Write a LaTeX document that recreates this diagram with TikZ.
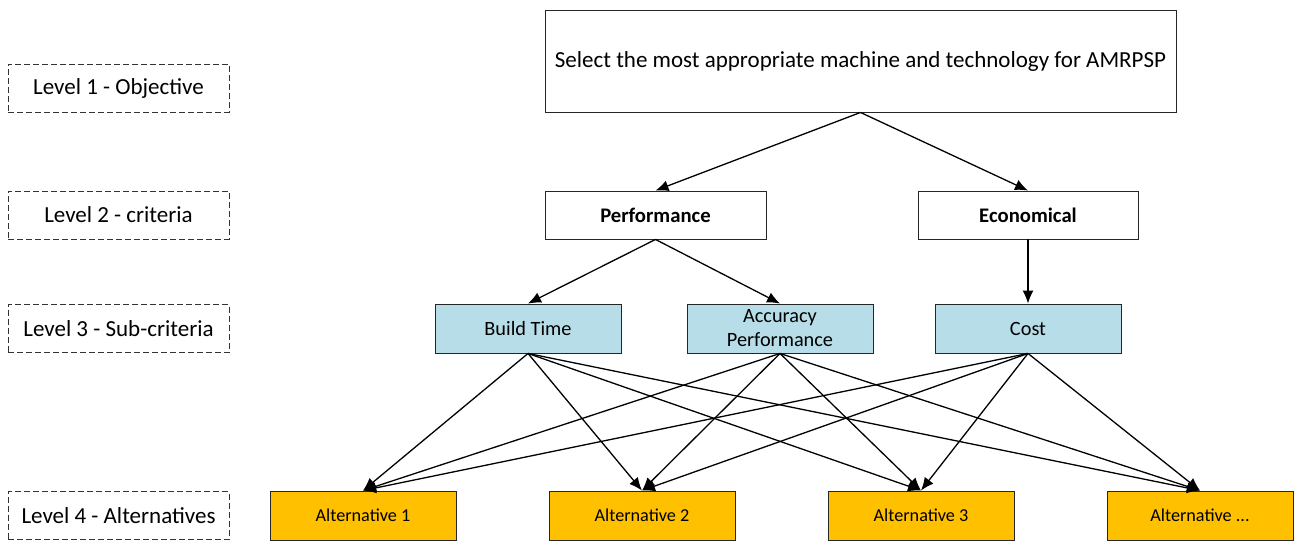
\documentclass[tikz,border=0pt]{standalone}
\usepackage{fontspec}
\setmainfont{Carlito}
\usetikzlibrary{arrows.meta}
\definecolor{subblue}{RGB}{183,221,232}
\definecolor{altgold}{RGB}{255,192,0}
\tikzset{
  levelbox/.style={draw=black!80, dash pattern=on 6pt off 3pt, line width=0.8pt, minimum width=221pt, minimum height=48pt, inner sep=0pt, font=\fontsize{23}{27}\selectfont},
  critbox/.style={draw=black!85, line width=0.9pt, fill=white, minimum width=221pt, minimum height=48pt, inner sep=0pt, font=\fontsize{20.7}{25}\selectfont\bfseries},
  subbox/.style={draw=black!85, line width=0.9pt, fill=subblue, minimum width=186pt, minimum height=49pt, inner sep=0pt, align=center, font=\fontsize{20.3}{24}\selectfont},
  altbox/.style={draw=black!85, line width=0.9pt, fill=altgold, minimum width=186pt, minimum height=49pt, inner sep=0pt, font=\fontsize{18.2}{22}\selectfont},
  arr/.style={-{Latex[length=13pt,width=11pt]}, line width=1.3pt}
}
\begin{document}
\begin{tikzpicture}[x=1pt, y=-1pt]
  % page frame
  \useasboundingbox (0,0) rectangle (1296,543);
  % level labels
  \node[levelbox] (lvl1) at (118.5,88) {Level 1 - Objective};
  \node[levelbox] (lvl2) at (118.5,215) {Level 2 - criteria};
  \node[levelbox] (lvl3) at (118.5,328.5) {Level 3 - Sub-criteria};
  \node[levelbox] (lvl4) at (118.5,515.5) {Level 4 - Alternatives};
  % objective
  \node[draw=black!85, line width=0.9pt, minimum width=631pt, minimum height=102pt, inner sep=0pt, font=\fontsize{23}{27}\selectfont] (obj) at (860.5,61) {Select the most appropriate machine and technology for AMRPSP};
  % criteria
  \node[critbox] (perf) at (655.5,215) {Performance};
  \node[critbox, minimum width=220pt] (econ) at (1028,215) {Economical};
  % sub-criteria
  \node[subbox] (bt) at (528,328.5) {Build Time};
  \node[subbox] (acc) at (780,328.5) {Accuracy\\Performance};
  \node[subbox] (cost) at (1028,328.5) {Cost};
  % alternatives
  \node[altbox] (alt1) at (363,515.5) {Alternative 1};
  \node[altbox] (alt2) at (642,515.5) {Alternative 2};
  \node[altbox] (alt3) at (921,515.5) {Alternative 3};
  \node[altbox] (alt4) at (1200,515.5) {Alternative ...};
  % hierarchy links
  \draw[arr] (obj.south) -- (perf.north);
  \draw[arr] (obj.south) -- (econ.north);
  \draw[arr] (perf.south) -- (bt.north);
  \draw[arr] (perf.south) -- (acc.north);
  \draw[arr] (econ.south) -- (cost.north);
  % every sub-criterion to every alternative
  \foreach \s in {bt,acc,cost}
    \foreach \a in {alt1,alt2,alt3,alt4}
      \draw[arr] (\s.south) -- (\a.north);
\end{tikzpicture}
\end{document}
